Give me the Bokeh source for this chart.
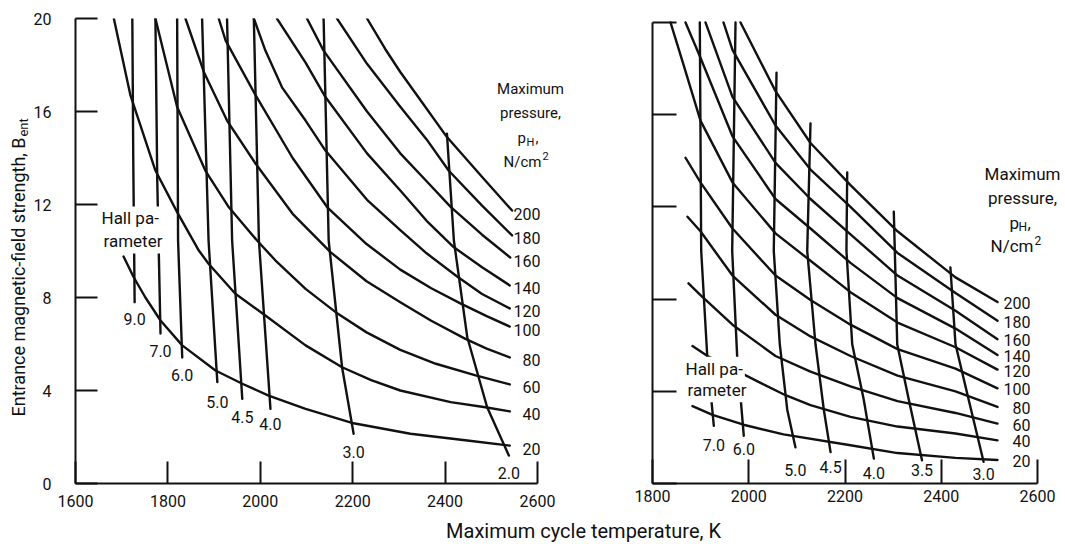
import math
from bokeh.plotting import figure
from bokeh.models import Range1d, FixedTicker, Label, ColumnDataSource
from bokeh.layouts import row, column
from bokeh.embed import file_html
from bokeh.resources import INLINE
from bokeh.core.properties import value

# ------------------------------------------------------------------
# DATA  (T = maximum cycle temperature, K ; B = entrance field strength)
# ------------------------------------------------------------------
pressures = [20, 40, 60, 80, 100, 120, 140, 160, 180, 200]

# ---- left panel : constant maximum pressure curves ----
left_T_20 = [1704, 1726, 1751, 1784, 1831, 1903, 1961, 2018, 2098, 2202, 2325, 2448, 2540]
left_B_20 = [9.76, 8.87, 8.01, 7.01, 5.94, 4.86, 4.29, 3.78, 3.21, 2.59, 2.14, 1.85, 1.63]
left_T_40 = [1683, 1719, 1773, 1820, 1867, 1888, 1946, 2011, 2098, 2177, 2240, 2303, 2412, 2487, 2540]
left_B_40 = [20.0, 16.69, 13.46, 11.67, 10.02, 9.45, 8.16, 7.23, 5.94, 5.0, 4.45, 4.0, 3.5, 3.28, 3.1]
left_T_60 = [1773, 1820, 1881, 1932, 1993, 2033, 2098, 2163, 2230, 2303, 2380, 2466, 2540]
left_B_60 = [20.0, 16.19, 13.46, 11.88, 10.45, 9.59, 8.37, 7.37, 6.5, 5.75, 5.15, 4.65, 4.26]
left_T_80 = [1838, 1878, 1928, 1990, 2070, 2152, 2230, 2303, 2370, 2444, 2490, 2540]
left_B_80 = [20.0, 17.69, 15.61, 13.75, 11.6, 9.95, 8.7, 7.8, 7.0, 6.22, 5.8, 5.42]
left_T_100 = [1910, 1925, 1990, 2070, 2145, 2230, 2303, 2370, 2433, 2490, 2540]
left_B_100 = [20.0, 19.05, 16.69, 14.0, 11.88, 10.3, 9.2, 8.4, 7.75, 7.2, 6.75]
left_T_120 = [1986, 2011, 2047, 2098, 2141, 2231, 2303, 2360, 2426, 2480, 2540]
left_B_120 = [20.0, 18.62, 17.04, 15.61, 14.32, 12.2, 10.9, 9.9, 8.9, 8.15, 7.53]
left_T_140 = [2036, 2098, 2141, 2231, 2303, 2360, 2419, 2480, 2540]
left_B_140 = [20.0, 18.1, 16.62, 14.2, 12.6, 11.3, 10.16, 9.3, 8.52]
left_T_160 = [2101, 2137, 2231, 2303, 2360, 2412, 2480, 2541]
left_B_160 = [20.0, 18.62, 16.0, 14.2, 13.0, 11.9, 10.7, 9.72]
left_T_180 = [2166, 2231, 2303, 2360, 2408, 2480, 2545]
left_B_180 = [20.0, 18.05, 16.2, 14.8, 13.45, 11.95, 10.67]
left_T_200 = [2231, 2270, 2303, 2350, 2404, 2484, 2545]
left_B_200 = [20.0, 18.7, 17.7, 16.4, 14.9, 13.1, 11.74]

# ---- left panel : constant Hall parameter lines ----
left_hall_labels = ["9.0", "7.0", "6.0", "5.0", "4.5", "4.0", "3.0", "2.0"]
left_H90_T = [1723, 1725, 1728];             left_H90_B = [20.0, 14.0, 7.8]
left_H70_T = [1773, 1777, 1784];             left_H70_B = [20.0, 13.0, 6.45]
left_H60_T = [1820, 1822, 1831];             left_H60_B = [20.0, 10.45, 5.42]
left_H50_T = [1874, 1888, 1907];             left_H50_B = [20.0, 10.45, 4.36]
left_H45_T = [1928, 1939, 1961];             left_H45_B = [20.0, 10.45, 3.64]
left_H40_T = [1986, 1997, 2022];             left_H40_B = [20.0, 10.45, 3.21]
left_H30_T = [2137, 2148, 2177, 2202];       left_H30_B = [20.0, 10.45, 5.0, 2.14]
left_H20_T = [2404, 2419, 2448, 2491, 2538]; left_H20_B = [15.04, 10.45, 6.29, 3.28, 1.20]

# ---- right panel : constant maximum pressure curves ----
right_T_20 = [1883.1, 1924.7, 1989.1, 2072.2, 2211.4, 2309.1, 2429.6, 2516.9]
right_B_20 = [3.36, 2.98, 2.55, 2.13, 1.66, 1.32, 1.11, 1.02]
right_T_40 = [1883.1, 1914.3, 2018.2, 2076.4, 2128.3, 2211.4, 2309.1, 2429.6, 2516.9]
right_B_40 = [5.96, 5.53, 4.43, 3.83, 3.40, 2.89, 2.47, 2.17, 1.87]
right_T_60 = [1874.8, 1899.7, 1966.2, 2055.6, 2128.3, 2211.4, 2309.1, 2429.6, 2516.9]
right_B_60 = [8.68, 8.17, 6.89, 5.53, 4.85, 4.21, 3.57, 3.06, 2.60]
right_T_80 = [1872.7, 1899.7, 1966.2, 2055.6, 2128.3, 2211.4, 2309.1, 2429.6, 2516.9]
right_B_80 = [11.57, 10.94, 9.02, 7.32, 6.38, 5.53, 4.68, 4.0, 3.32]
right_T_100 = [1868.6, 1899.7, 1966.2, 2055.6, 2128.3, 2211.4, 2309.1, 2429.6, 2516.9]
right_B_100 = [14.13, 13.06, 11.06, 9.02, 7.96, 6.89, 5.83, 4.98, 4.13]
right_T_120 = [1837.4, 1864.4, 1899.7, 1966.2, 2055.6, 2128.3, 2211.4, 2309.1, 2429.6, 2516.9]
right_B_120 = [20.0, 18.17, 15.74, 13.06, 10.85, 9.66, 8.30, 6.98, 5.91, 4.94]
right_T_140 = [1868.6, 1899.7, 1966.2, 2055.6, 2128.3, 2211.4, 2309.1, 2429.6, 2516.9]
right_B_140 = [20.0, 18.47, 15.06, 12.34, 11.06, 9.57, 8.04, 6.72, 5.57]
right_T_160 = [1910.1, 1966.2, 2055.6, 2128.3, 2211.4, 2309.1, 2429.6, 2516.9]
right_B_160 = [20.0, 16.77, 13.91, 12.34, 10.81, 9.02, 7.49, 6.26]
right_T_180 = [1947.5, 1966.2, 2055.6, 2128.3, 2211.4, 2309.1, 2429.6, 2516.9]
right_B_180 = [20.0, 18.81, 15.53, 13.62, 12.0, 10.0, 8.26, 7.06]
right_T_200 = [1982.9, 2055.6, 2128.3, 2211.4, 2309.1, 2429.6, 2516.9]
right_B_200 = [20.0, 17.02, 14.77, 12.94, 10.94, 8.94, 7.87]

# ---- right panel : constant Hall parameter lines ----
right_hall_labels = ["7.0", "6.0", "5.0", "4.5", "4.0", "3.5", "3.0"]
right_H70_T = [1898.3, 1901.2, 1913.7, 1927.4];          right_H70_B = [20.0, 10.09, 5.54, 2.50]
right_H60_T = [1972.5, 1965.6, 1976.0, 1989.7];          right_H60_B = [20.0, 10.09, 5.48, 2.07]
right_H50_T = [2057.7, 2052.0, 2064.5, 2080.0, 2097.0];  right_H50_B = [17.82, 10.09, 6.04, 3.2, 1.57]
right_H45_T = [2128.3, 2121.5, 2138.7, 2156.0, 2170.0];  right_H45_B = [15.62, 10.09, 6.04, 3.2, 1.36]
right_H40_T = [2204.6, 2203.0, 2215.0, 2239.0, 2260.0];  right_H40_B = [13.49, 10.09, 6.04, 3.63, 1.08]
right_H35_T = [2301.4, 2308.5, 2332.6, 2360.0];          right_H35_B = [11.79, 6.04, 3.63, 1.01]
right_H30_T = [2419.0, 2429.6, 2457.0, 2488.0];          right_H30_B = [9.37, 6.04, 3.63, 0.94]

# axis ticks
left_xticks = [1600, 1800, 2000, 2200, 2400, 2600]
right_xticks = [1800, 2000, 2200, 2400, 2600]
yticks = [0, 4, 8, 12, 16, 20]

# ------------------------------------------------------------------
# STYLE / GEOMETRY
# ------------------------------------------------------------------
FONT = "Roboto"
INK = "#111111"
LW = 2.4
L_PXT, L_PXB = 0.462, 23.25      # px per K, px per B-unit (left panel)
R_PXT, R_PXB = 0.48125, 23.5     # right panel

left_curves = [(left_T_20, left_B_20), (left_T_40, left_B_40), (left_T_60, left_B_60),
               (left_T_80, left_B_80), (left_T_100, left_B_100), (left_T_120, left_B_120),
               (left_T_140, left_B_140), (left_T_160, left_B_160), (left_T_180, left_B_180),
               (left_T_200, left_B_200)]
left_hall = [(left_H90_T, left_H90_B), (left_H70_T, left_H70_B), (left_H60_T, left_H60_B),
             (left_H50_T, left_H50_B), (left_H45_T, left_H45_B), (left_H40_T, left_H40_B),
             (left_H30_T, left_H30_B), (left_H20_T, left_H20_B)]
right_curves = [(right_T_20, right_B_20), (right_T_40, right_B_40), (right_T_60, right_B_60),
                (right_T_80, right_B_80), (right_T_100, right_B_100), (right_T_120, right_B_120),
                (right_T_140, right_B_140), (right_T_160, right_B_160), (right_T_180, right_B_180),
                (right_T_200, right_B_200)]
right_hall = [(right_H70_T, right_H70_B), (right_H60_T, right_H60_B), (right_H50_T, right_H50_B),
              (right_H45_T, right_H45_B), (right_H40_T, right_H40_B), (right_H35_T, right_H35_B),
              (right_H30_T, right_H30_B)]
left_hall_drop = [17, 17, 18, 20, 18, 15, 18, 17]      # label distance below line end, px
right_hall_drop = [19, 13, 23, 15, 15, 10, 12]


def style_axes(p, xticks, xbounds, tick_in, xstand, ystand, ylabels):
    for ax in (p.xaxis[0], p.yaxis[0]):
        ax.major_tick_in = tick_in
        ax.major_tick_out = 0
        ax.minor_tick_line_color = None
        ax.axis_line_width = 2
        ax.major_tick_line_width = 2
        ax.axis_line_color = INK
        ax.major_tick_line_color = INK
        ax.major_label_text_font = FONT
        ax.major_label_text_font_size = "16px"
        ax.major_label_text_color = INK
    p.xaxis.ticker = FixedTicker(ticks=xticks)
    p.xaxis.bounds = xbounds
    p.xaxis.major_label_standoff = xstand
    p.yaxis.ticker = FixedTicker(ticks=yticks)
    p.yaxis.bounds = (0, 20)
    p.yaxis.major_label_standoff = ystand
    if not ylabels:
        p.yaxis.major_label_overrides = {t: "" for t in yticks}
    p.grid.visible = False
    p.outline_line_color = None
    p.background_fill_color = "white"
    p.border_fill_color = "white"


def lab(p, x, y, text, size="15px", align="center", baseline="middle", angle=0.0, bg=None):
    kw = dict(x=x, y=y, text=text, text_font=FONT, text_font_size=size,
              text_align=align, text_baseline=baseline, text_color=INK, angle=angle)
    if bg is not None:
        kw.update(background_fill_color=bg, padding=2)
    p.add_layout(Label(**kw))


def legend_block(p, xc, y_top, pxt, pxb, size, sub):
    """'Maximum pressure, p_H, N/cm^2' block centred on data x xc."""
    dx = lambda px: px / pxt
    dy = lambda px: px / pxb
    lab(p, xc, y_top, "Maximum", size=size)
    lab(p, xc, y_top - dy(24), "pressure,", size=size)
    yp = y_top - dy(49)
    lab(p, xc - dx(13), yp, "p", size=size, align="left")
    lab(p, xc - dx(4), yp - dy(5), "H", size=sub, align="left")
    lab(p, xc + dx(5), yp, ",", size=size, align="left")
    yn = y_top - dy(73)
    lab(p, xc + dx(11), yn, "N/cm", size=size, align="right")
    lab(p, xc + dx(12), yn + dy(6), "2", size=sub, align="left")


# ------------------------------------------------------------------
# Y-AXIS TITLE STRIP (coordinates 0..30 x 0..516)
# ------------------------------------------------------------------
Yt = figure(width=30, height=516, x_range=Range1d(0, 30), y_range=Range1d(0, 516),
            x_axis_type=None, y_axis_type=None, min_border=0,
            output_backend="svg", toolbar_location=None, title=None)
Yt.grid.visible = False
Yt.outline_line_color = None
lab(Yt, 18, 516 - 127, "Entrance magnetic-field strength,  B", size="18px",
    align="right", angle=math.pi / 2)
lab(Yt, 23, 516 - 131, "ent", size="13px", align="left", angle=math.pi / 2)

# ------------------------------------------------------------------
# LEFT PANEL
# ------------------------------------------------------------------
L = figure(width=580, height=516, x_range=Range1d(1600, 1600 + 535 / L_PXT), y_range=Range1d(0, 20),
           min_border_left=45, min_border_right=0, min_border_top=18, min_border_bottom=33,
           output_backend="svg", toolbar_location=None, title=None)
style_axes(L, left_xticks, (1600, 2600), 22, 11, 24, True)

for T, B in left_curves + left_hall:
    L.line(T, B, line_color=INK, line_width=LW, line_join="round", line_cap="round")

src = ColumnDataSource(dict(x=[1600 + 465 / L_PXT] * len(pressures),
                            y=[c[1][-1] - 3 / L_PXB for c in left_curves],
                            t=[str(v) for v in pressures]))
L.text(x="x", y="y", text="t", source=src, text_font=value(FONT), text_font_size="16px",
       text_align="right", text_baseline="middle", text_color=INK)
src = ColumnDataSource(dict(x=[h[0][-1] for h in left_hall],
                            y=[h[1][-1] - d / L_PXB for h, d in zip(left_hall, left_hall_drop)],
                            t=left_hall_labels))
L.text(x="x", y="y", text="t", source=src, text_font=value(FONT), text_font_size="16px",
       text_align="center", text_baseline="middle", text_color=INK)

lab(L, 1600 + 24 / L_PXT, 11.40, "Hall pa-", size="17px", align="left", bg="white")
lab(L, 1600 + 26 / L_PXT, 10.41, "rameter", size="17px", align="left", bg="white")
legend_block(L, 1600 + 455 / L_PXT, (483 - 88) / L_PXB, L_PXT, L_PXB, "15px", "11px")

# ------------------------------------------------------------------
# RIGHT PANEL
# ------------------------------------------------------------------
R = figure(width=455, height=516, x_range=Range1d(1800, 1800 + 413 / R_PXT),
           y_range=Range1d(0, 20 + 4 / R_PXB),
           min_border_left=42, min_border_right=0, min_border_top=18, min_border_bottom=24,
           output_backend="svg", toolbar_location=None, title=None)
style_axes(R, right_xticks, (1800, 2600), 24, 6, 0, False)

for T, B in right_curves + right_hall:
    R.line(T, B, line_color=INK, line_width=LW, line_join="round", line_cap="round")

src = ColumnDataSource(dict(x=[1800 + 378 / R_PXT] * len(pressures),
                            y=[c[1][-1] - 1 / R_PXB for c in right_curves],
                            t=[str(v) for v in pressures]))
R.text(x="x", y="y", text="t", source=src, text_font=value(FONT), text_font_size="16px",
       text_align="right", text_baseline="middle", text_color=INK)
src = ColumnDataSource(dict(x=[h[0][-1] for h in right_hall],
                            y=[h[1][-1] - d / R_PXB for h, d in zip(right_hall, right_hall_drop)],
                            t=right_hall_labels))
R.text(x="x", y="y", text="t", source=src, text_font=value(FONT), text_font_size="16px",
       text_align="center", text_baseline="middle", text_color=INK)

lab(R, 1800 + 31 / R_PXT, (492 - 375) / R_PXB, "Hall pa-", size="17px", align="left", bg="white")
lab(R, 1800 + 33 / R_PXT, (492 - 397) / R_PXB, "rameter", size="17px", align="left", bg="white")
legend_block(R, 1800 + 370 / R_PXT, (492 - 177) / R_PXB, R_PXT, R_PXB, "17px", "12px")

# ------------------------------------------------------------------
# shared x-axis title
# ------------------------------------------------------------------
Tt = figure(width=1065, height=28, x_range=Range1d(0, 1065), y_range=Range1d(0, 28),
            x_axis_type=None, y_axis_type=None, min_border=0,
            output_backend="svg", toolbar_location=None, title=None)
Tt.grid.visible = False
Tt.outline_line_color = None
lab(Tt, 583, 14, "Maximum cycle temperature, K", size="20px")

layout = column(row(Yt, L, R), Tt)
open("out.html", "w").write(file_html(layout, INLINE))
